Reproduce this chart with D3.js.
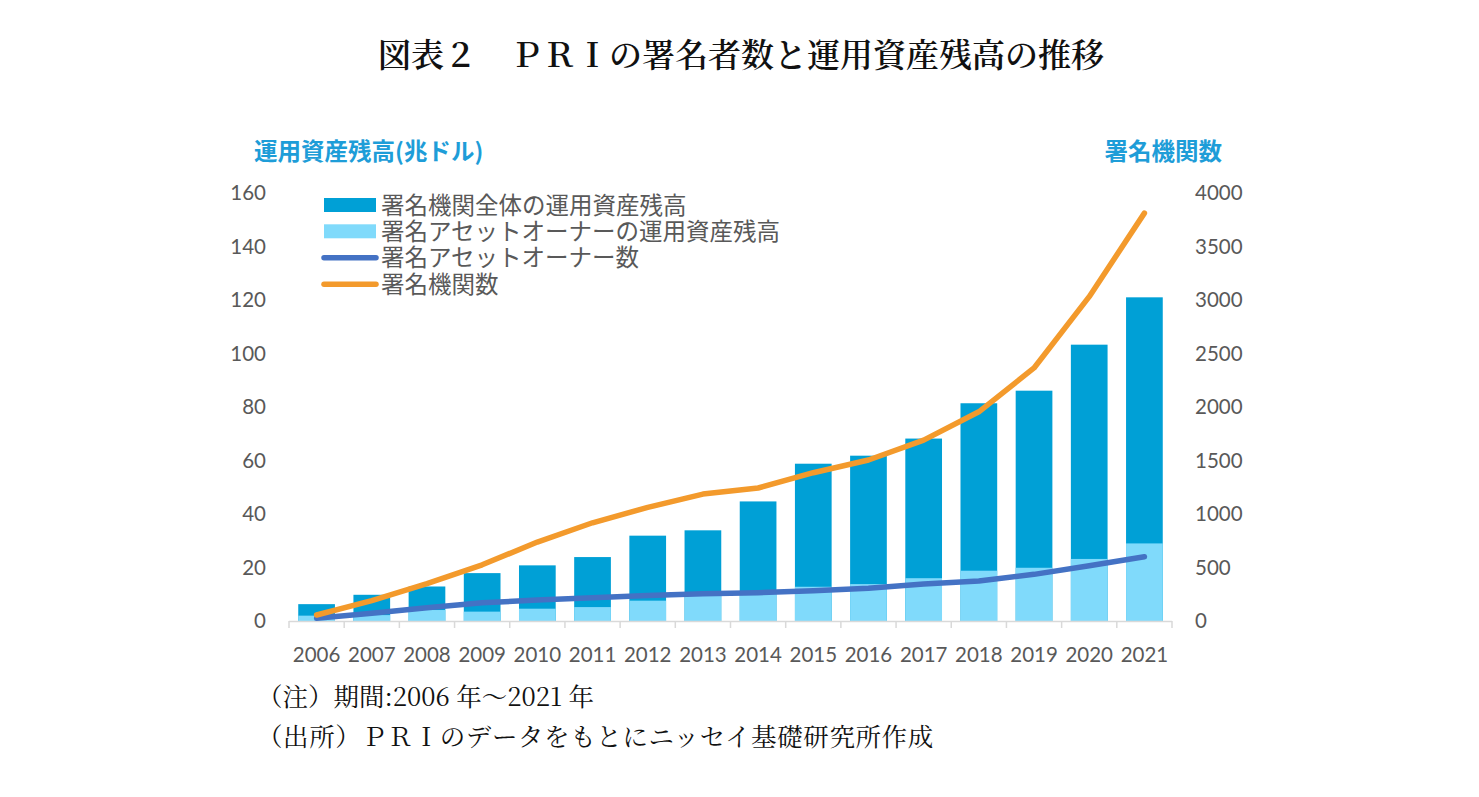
<!DOCTYPE html>
<html>
<head>
<meta charset="utf-8">
<script src="https://cdn.jsdelivr.net/npm/d3@7"></script>
<style>
  html, body { margin: 0; padding: 0; background: #fff; }
  svg { display: block; }
</style>
</head>
<body>
<svg id="chart" width="1479" height="797"></svg>
<script>
// ---- data ----
const years = ["2006","2007","2008","2009","2010","2011","2012","2013","2014","2015","2016","2017","2018","2019","2020","2021"];
const aumAll = [6.3, 9.8, 12.9, 17.9, 20.8, 23.9, 31.9, 33.9, 44.7, 58.8, 61.8, 68.2, 81.4, 86.1, 103.3, 121.0];
const aumOwners = [2.0, 2.2, 4.1, 3.5, 4.6, 5.2, 7.6, 9.5, 10.5, 12.8, 13.8, 16.0, 18.8, 19.9, 23.2, 29.0];
const ownerCount = [25, 72, 124, 170, 196, 218, 238, 254, 264, 283, 306, 346, 374, 436, 517, 601];
const signatoryCount = [56, 190, 350, 525, 738, 918, 1062, 1186, 1243, 1386, 1505, 1690, 1955, 2365, 3031, 3812];
const leftTicks = [0, 20, 40, 60, 80, 100, 120, 140, 160];
const rightTicks = [0, 500, 1000, 1500, 2000, 2500, 3000, 3500, 4000];
const legendLabels = ["署名機関全体の運用資産残高", "署名アセットオーナーの運用資産残高", "署名アセットオーナー数", "署名機関数"];
const titleText = "図表２　ＰＲＩの署名者数と運用資産残高の推移";
const leftTitle = "運用資産残高(兆ドル)";
const rightTitle = "署名機関数";
const notes = ["（注）期間:2006 年～2021 年", "（出所）ＰＲＩのデータをもとにニッセイ基礎研究所作成"];

// ---- styles ----
const C_DARK = "#00A0D6", C_LIGHT = "#80DAFB", C_BLUE = "#4472C4", C_ORANGE = "#F39A2C";
const C_TEXT = "#595959", C_TITLE_AX = "#1E9DD8";
const CJK = "'Noto Sans CJK JP', 'Noto Sans', sans-serif";
const LEGEND_FONT = "'Liberation Sans', 'Noto Sans CJK JP', sans-serif";
const SERIF = "'Noto Serif CJK JP', " + CJK;
const NUM = "Lato, 'Open Sans', sans-serif";

const svg = d3.select("#chart");
svg.append("rect").attr("width", 1479).attr("height", 797).attr("fill", "#fff");

const x = d3.scaleBand().domain(years).range([289, 1172]).paddingInner(0.335).paddingOuter(0.1675);
const yL = d3.scaleLinear().domain([0, 160]).range([621, 193]);
const yR = d3.scaleLinear().domain([0, 4000]).range([621, 193]);

// title
svg.append("text").attr("x", 741).attr("y", 67).attr("text-anchor", "middle")
  .attr("font-family", SERIF).attr("font-size", 33).attr("font-weight", 600).attr("fill", "#111")
  .text(titleText);

// axis titles
svg.append("text").attr("x", 254).attr("y", 160).attr("font-family", CJK).attr("font-size", 23.5)
  .attr("font-weight", 700).attr("fill", C_TITLE_AX).text(leftTitle);
svg.append("text").attr("x", 1222).attr("y", 160).attr("text-anchor", "end").attr("font-family", CJK).attr("font-size", 23.5)
  .attr("font-weight", 700).attr("fill", C_TITLE_AX).text(rightTitle);

// bars
const g = svg.append("g");
g.selectAll("rect.all").data(years).join("rect").attr("class", "all")
  .attr("x", d => x(d)).attr("width", x.bandwidth())
  .attr("y", (d, i) => yL(aumAll[i])).attr("height", (d, i) => yL(0) - yL(aumAll[i]))
  .attr("fill", C_DARK);
g.selectAll("rect.own").data(years).join("rect").attr("class", "own")
  .attr("x", d => x(d)).attr("width", x.bandwidth())
  .attr("y", (d, i) => yL(aumOwners[i])).attr("height", (d, i) => yL(0) - yL(aumOwners[i]))
  .attr("fill", C_LIGHT);

// x axis
svg.append("line").attr("x1", 289).attr("x2", 1172).attr("y1", 621.5).attr("y2", 621.5)
  .attr("stroke", "#D9D9D9").attr("stroke-width", 1.5);
const bounds = years.map(d => x(d) - x.step() * x.paddingInner() / 2).concat([1172]);
svg.selectAll("line.tk").data(bounds).join("line").attr("class", "tk")
  .attr("x1", d => d).attr("x2", d => d).attr("y1", 621).attr("y2", 628)
  .attr("stroke", "#D9D9D9").attr("stroke-width", 1.5);
svg.selectAll("text.xl").data(years).join("text").attr("class", "xl")
  .attr("x", d => x(d) + x.bandwidth() / 2).attr("y", 655).attr("dy", "0.35em")
  .attr("text-anchor", "middle").attr("font-family", NUM).attr("font-size", 20.5).attr("fill", C_TEXT)
  .text(d => d);

// y axes labels
const la = svg.append("g").attr("transform", "translate(266,0)")
  .call(d3.axisLeft(yL).tickValues(leftTicks).tickSize(0).tickPadding(0));
la.select(".domain").remove();
la.selectAll("text").attr("font-family", NUM).attr("font-size", 20.5).attr("fill", C_TEXT);
const ra = svg.append("g").attr("transform", "translate(1195,0)")
  .call(d3.axisRight(yR).tickValues(rightTicks).tickSize(0).tickPadding(0).tickFormat(d3.format("d")));
ra.select(".domain").remove();
ra.selectAll("text").attr("font-family", NUM).attr("font-size", 20.5).attr("fill", C_TEXT);

// lines
const cx = d => x(d) + x.bandwidth() / 2;
const line = d3.line().curve(d3.curveLinear);
svg.append("path").attr("d", line(years.map((d, i) => [cx(d), yR(ownerCount[i])])))
  .attr("fill", "none").attr("stroke", C_BLUE).attr("stroke-width", 5.5)
  .attr("stroke-linecap", "round").attr("stroke-linejoin", "round");
svg.append("path").attr("d", line(years.map((d, i) => [cx(d), yR(signatoryCount[i])])))
  .attr("fill", "none").attr("stroke", C_ORANGE).attr("stroke-width", 5.5)
  .attr("stroke-linecap", "round").attr("stroke-linejoin", "round");

// legend
const legY = [205, 231.3, 257.8, 284.3];
const leg = svg.append("g");
leg.append("rect").attr("x", 324).attr("y", legY[0] - 7).attr("width", 52).attr("height", 14).attr("fill", C_DARK);
leg.append("rect").attr("x", 324).attr("y", legY[1] - 7).attr("width", 52).attr("height", 14).attr("fill", C_LIGHT);
leg.append("line").attr("x1", 324).attr("x2", 376).attr("y1", legY[2]).attr("y2", legY[2])
  .attr("stroke", C_BLUE).attr("stroke-width", 5.5).attr("stroke-linecap", "round");
leg.append("line").attr("x1", 324).attr("x2", 376).attr("y1", legY[3]).attr("y2", legY[3])
  .attr("stroke", C_ORANGE).attr("stroke-width", 5.5).attr("stroke-linecap", "round");
leg.selectAll("text").data(legendLabels).join("text")
  .attr("x", 381).attr("y", (d, i) => legY[i] + 8.5)
  .attr("font-family", LEGEND_FONT).attr("font-size", 23.5)
  .attr("fill", C_TEXT).text(d => d);

// notes
svg.selectAll("text.note").data(notes).join("text").attr("class", "note")
  .attr("x", 257).attr("y", (d, i) => 706 + i * 40)
  .attr("font-family", SERIF).attr("font-size", 25.5).attr("fill", "#111")
  .attr("letter-spacing", (d, i) => i === 1 ? 0.6 : 0)
  .text(d => d);
</script>
</body>
</html>
